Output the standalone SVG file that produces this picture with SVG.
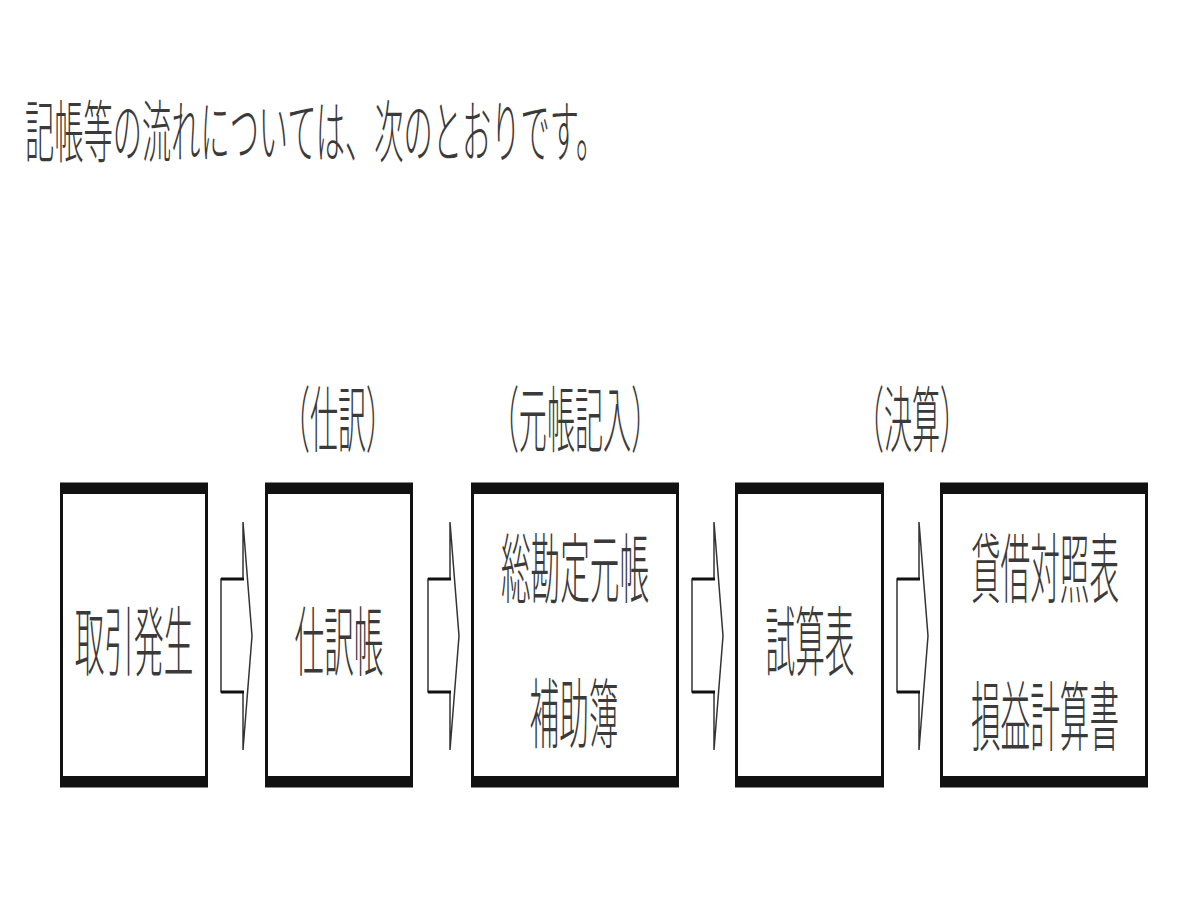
<svg xmlns="http://www.w3.org/2000/svg" width="1200" height="900" viewBox="0 0 1200 900">
<style>
.t{font-family:"Noto Sans CJK JP","Noto Sans CJK SC",sans-serif;font-weight:300;fill:#3a3a3a;text-anchor:middle}
.hd{font-family:"Noto Sans CJK JP","Noto Sans CJK SC",sans-serif;font-weight:300;fill:#3a3a3a}
.box{fill:#fff;stroke:#111;stroke-width:3}
.bar{fill:#111}
.ar{fill:#fff;stroke:#333;stroke-width:1.5;stroke-linejoin:miter}
.sh{stroke:#111;stroke-width:3}
</style>
<rect width="1200" height="900" fill="#fff"/>
<text class="hd" font-size="68" transform="translate(25,157) scale(0.43,1)">記帳等の流れについては、次のとおりです。</text>

<g id="label-shiwake"><text class="t" font-size="72" transform="translate(338,446) scale(0.39,1)">（仕訳）</text></g>
<g id="label-motocho"><text class="t" font-size="72" transform="translate(575,446) scale(0.39,1)">（元帳記入）</text></g>
<g id="label-kessan"><text class="t" font-size="72" transform="translate(912,446) scale(0.39,1)">（決算）</text></g>

<g id="connectors">
  <g transform="translate(0,0)">
    <polygon class="ar" points="221,579 243,579 243,522 252,636 243,750 243,692 221,692"/>
    <line class="sh" x1="221" y1="579" x2="244" y2="579"/><line class="sh" x1="221" y1="692" x2="244" y2="692"/>
  </g>
  <g transform="translate(207,0)">
    <polygon class="ar" points="221,579 243,579 243,522 252,636 243,750 243,692 221,692"/>
    <line class="sh" x1="221" y1="579" x2="244" y2="579"/><line class="sh" x1="221" y1="692" x2="244" y2="692"/>
  </g>
  <g transform="translate(471,0)">
    <polygon class="ar" points="221,579 243,579 243,522 252,636 243,750 243,692 221,692"/>
    <line class="sh" x1="221" y1="579" x2="244" y2="579"/><line class="sh" x1="221" y1="692" x2="244" y2="692"/>
  </g>
  <g transform="translate(676,0)">
    <polygon class="ar" points="221,579 243,579 243,522 252,636 243,750 243,692 221,692"/>
    <line class="sh" x1="221" y1="579" x2="244" y2="579"/><line class="sh" x1="221" y1="692" x2="244" y2="692"/>
  </g>
</g>

<g id="node-torihiki">
  <rect class="box" x="61.5" y="484" width="145" height="302"/>
  <rect class="bar" x="60" y="483" width="148" height="11"/>
  <rect class="bar" x="60" y="776" width="148" height="11"/>
  <text class="t" font-size="76" transform="translate(134,670) scale(0.39,1)">取引発生</text>
</g>
<g id="node-shiwakecho">
  <rect class="box" x="266.5" y="484" width="145" height="302"/>
  <rect class="bar" x="265" y="483" width="148" height="11"/>
  <rect class="bar" x="265" y="776" width="148" height="11"/>
  <text class="t" font-size="76" transform="translate(339,670) scale(0.39,1)">仕訳帳</text>
</g>
<g id="node-motocho">
  <rect class="box" x="472.5" y="484" width="205" height="302"/>
  <rect class="bar" x="471" y="483" width="208" height="11"/>
  <rect class="bar" x="471" y="776" width="208" height="11"/>
  <text class="t" font-size="76" transform="translate(575,597) scale(0.39,1)">総勘定元帳</text>
  <text class="t" font-size="76" transform="translate(574,742) scale(0.39,1)">補助簿</text>
</g>
<g id="node-shisanhyo">
  <rect class="box" x="736.5" y="484" width="146" height="302"/>
  <rect class="bar" x="735" y="483" width="149" height="11"/>
  <rect class="bar" x="735" y="776" width="149" height="11"/>
  <text class="t" font-size="76" transform="translate(810,670) scale(0.39,1)">試算表</text>
</g>
<g id="node-kessansho">
  <rect class="box" x="941.5" y="484" width="205" height="302"/>
  <rect class="bar" x="940" y="483" width="208" height="11"/>
  <rect class="bar" x="940" y="776" width="208" height="11"/>
  <text class="t" font-size="76" transform="translate(1045,597) scale(0.39,1)">貸借対照表</text>
  <text class="t" font-size="76" transform="translate(1045,745) scale(0.39,1)">損益計算書</text>
</g>
</svg>
